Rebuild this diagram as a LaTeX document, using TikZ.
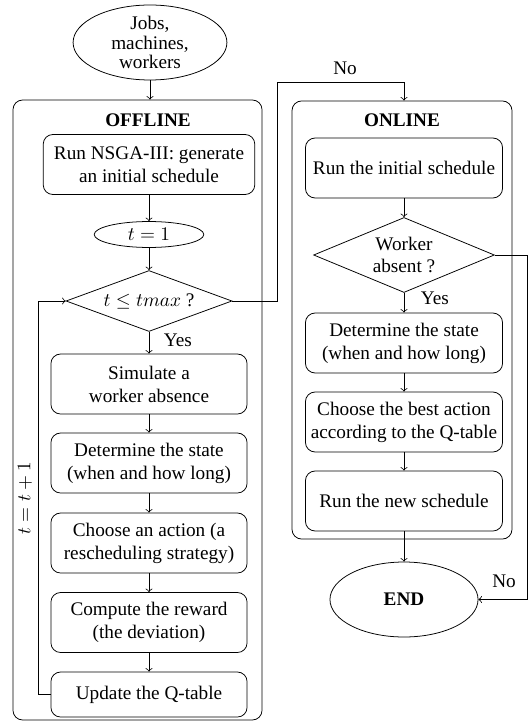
\documentclass[tikz,border=0pt]{standalone}
\usepackage[no-math]{fontspec}
\setmainfont{Liberation Serif}
\usetikzlibrary{shapes.geometric}
\begin{document}
\begin{tikzpicture}[x=0.52pt,y=-0.52pt,
  box/.style={draw, rounded corners=5pt, align=center, minimum width=102pt, minimum height=31.2pt, inner sep=1pt},
  outer/.style={draw, rounded corners=5pt, inner sep=0pt},
  oval/.style={ellipse, draw, inner sep=0pt},
  decision/.style={diamond, draw, inner sep=0pt, align=center},
  title/.style={font=\bfseries},
  conn/.style={->}]
\useasboundingbox (0,0) rectangle (529,721);

% start
\node[oval, minimum width=80pt, minimum height=39pt] (start) at (150,42.5) {};
\node[align=center, inner sep=0pt] (starttxt) at (start) {Jobs,\\[-2pt] machines,\\[-2pt] workers};

% OFFLINE
\node[outer, minimum width=129.5pt, minimum height=322.4pt] (off) at (137.5,410) {};
\node[title] (offlbl) at (148,120) {OFFLINE};
\node[box, minimum width=110pt] (nsga) at (149,164.5) {Run NSGA-III: generate\\an initial schedule};
\node[oval, minimum width=57pt, minimum height=13.5pt] (t1) at (149,234.5) {$t=1$};
\node[decision, aspect=2.72, minimum width=86.3pt, minimum height=31.7pt] (d1) at (149,301) {$t \leq tmax$ ?};
\node[box] (sim) at (149,384) {Simulate a\\worker absence};
\node[box] (det) at (149,463) {Determine the state\\(when and how long)};
\node[box] (cho) at (149,543) {Choose an action (a\\rescheduling strategy)};
\node[box] (comp) at (149,622.5) {Compute the reward\\(the deviation)};
\node[box, minimum height=23.4pt] (upd) at (149,694.5) {Update the Q-table};
\node[anchor=west] (yes1) at (157,340) {Yes};
\node[rotate=90] (tlbl) at (25,498) {$t=t+1$};

% ONLINE
\node[outer, minimum width=114.4pt, minimum height=227.8pt] (on) at (402,320) {};
\node[title] (onlbl) at (402,120) {ONLINE};
\node[box, minimum width=102.5pt] (runi) at (404,168) {Run the initial schedule};
\node[decision, aspect=2.41, minimum width=94pt, minimum height=39pt] (d2) at (404,255) {Worker\\[-1pt] absent ?};
\node[box, minimum width=102.5pt] (det2) at (404,343) {Determine the state\\(when and how long)};
\node[box, minimum width=102.5pt] (cho2) at (404,422) {Choose the best action\\according to the Q-table};
\node[box, minimum width=102.5pt] (run2) at (404,501) {Run the new schedule};
\node[oval, minimum width=77pt, minimum height=39pt, font=\bfseries] (end) at (404,599.5) {END};
\node[anchor=west] (yes2) at (414,298) {Yes};
\node (no1) at (345,68) {No};
\node (no2) at (504,581) {No};

\coordinate (n1) at (277,82);
\coordinate (n2) at (527,255);

% connectors
\draw[conn] (start) -- (start |- off.north);
\draw[conn] (nsga) -- (t1);
\draw[conn] (t1) -- (d1);
\draw[conn] (d1) -- (sim);
\draw[conn] (sim) -- (det);
\draw[conn] (det) -- (cho);
\draw[conn] (cho) -- (comp);
\draw[conn] (comp) -- (upd);
\draw[conn] (upd.west) -- ++(-12,0) |- (d1.west);
\draw[conn] (d1.east) -| (n1) -| (d2 |- on.north);
\draw[conn] (runi) -- (d2);
\draw[conn] (d2) -- (det2);
\draw[conn] (det2) -- (cho2);
\draw[conn] (cho2) -- (run2);
\draw[conn] (run2) -- (end);
\draw[conn] (d2.east) -- (n2) |- (end.east);
\end{tikzpicture}
\end{document}
